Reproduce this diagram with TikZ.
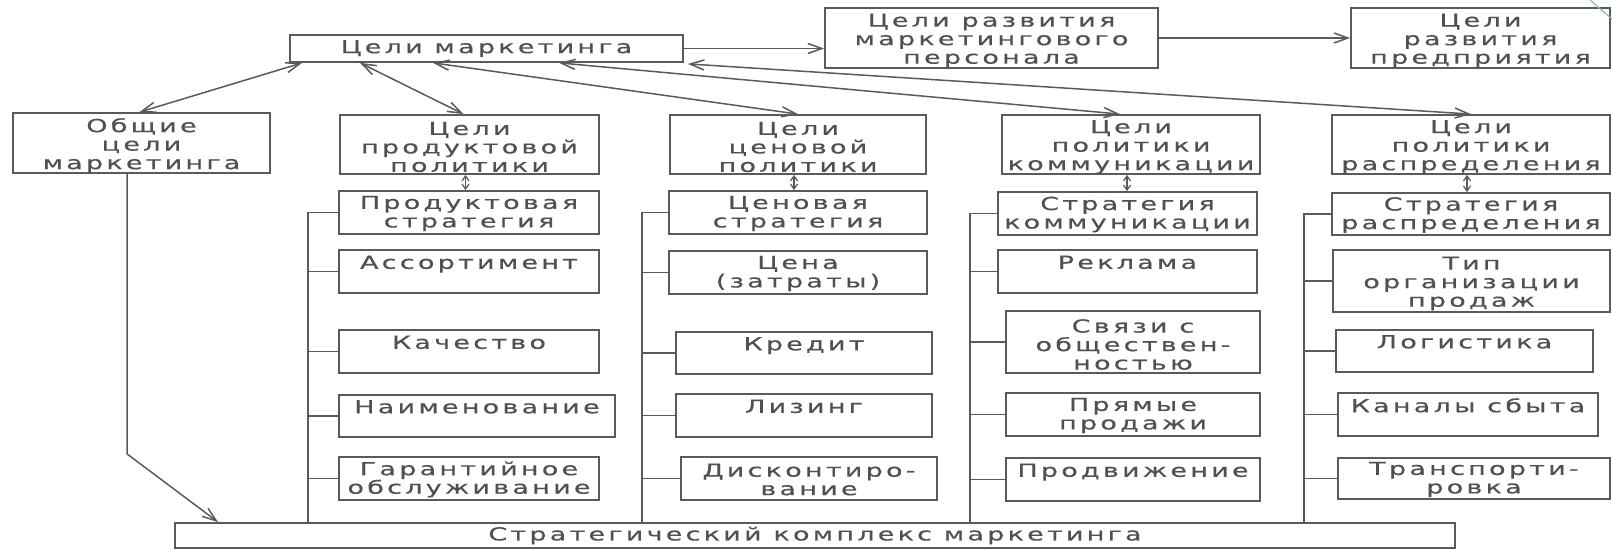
\documentclass[tikz,border=0pt]{standalone}
\usepackage{fontspec}
\setmainfont[LetterSpace=18,FakeStretch=1.5,FakeBold=0.5]{DejaVu Sans}
\usetikzlibrary{arrows.meta}
\definecolor{lc}{HTML}{5A5A5A}
\definecolor{tc}{HTML}{505050}
\definecolor{edgeblue}{HTML}{8AB0D8}
% box by its corners: [text drop], name, x1, y1, x2, y2, text
\newcommand\boxnode[7][0]{%
  \node[bx,minimum width={#5-#3},minimum height={#6-#4}] (#2) at ({(#3+#5)/2},{(#4+#6)/2}) {};
  \node[txt] (#2-t) at ([yshift=-#1pt]#2.center) {#7};}
\begin{document}
\begin{tikzpicture}[x=1pt,y=-1pt,
  ln/.style={draw=lc,line width=1.5pt},
  bx/.style={draw=lc,line width=1.8pt,rectangle,inner sep=0pt},
  txt/.style={inner sep=0pt,align=center,text=tc,font=\fontsize{18}{18.5}\selectfont},
  barb/.tip={Straight Barb[length=14pt,width=10pt]},
  smallbarb/.tip={Straight Barb[length=5pt,width=7pt]},
  dbl/.style={ln,barb-barb},
  onearr/.style={ln,-barb},
  tiny/.style={ln,line width=1.2pt,smallbarb-smallbarb}]
\useasboundingbox (0,0) rectangle (1612,549);

% top row
\boxnode{goal}{290}{35}{683}{62}{Цели маркетинга}
\boxnode[2.5]{staff}{825}{8}{1158}{68}{Цели развития\\маркетингового\\персонала}
\boxnode[2.5]{firm}{1351}{8}{1610}{68}{Цели\\развития\\предприятия}

% goals of the four policies
\boxnode[2.5]{gen}{13}{113}{270}{173}{Общие\\цели\\маркетинга}
\boxnode[2.5]{prodG}{340}{115}{599}{174}{Цели\\продуктовой\\политики}
\boxnode[2.5]{priceG}{670}{115}{926}{174}{Цели\\ценовой\\политики}
\boxnode[2.5]{commG}{1002}{115}{1260}{174}{Цели\\политики\\коммуникации}
\boxnode[2.5]{distG}{1332}{115}{1610}{174}{Цели\\политики\\распределения}

% strategies
\boxnode[1]{prodS}{339}{191}{599}{234}{Продуктовая\\стратегия}
\boxnode[1]{priceS}{669}{191}{927}{234}{Ценовая\\стратегия}
\boxnode[1]{commS}{998}{192}{1257}{235}{Стратегия\\коммуникации}
\boxnode[1]{distS}{1332}{193}{1610}{235}{Стратегия\\распределения}

% product column
\boxnode{p1}{339}{250}{599}{293}{Ассортимент\\\mbox{}}
\boxnode{p2}{339}{330}{599}{373}{Качество\\\mbox{}}
\boxnode{p3}{339}{395}{615}{437}{Наименование\\\mbox{}}
\boxnode[1]{p4}{339}{457}{599}{500}{Гарантийное\\обслуживание}

% price column
\boxnode[1]{c1}{669}{251}{927}{294}{Цена\\(затраты)}
\boxnode{c2}{676}{332}{932}{374}{Кредит\\\mbox{}}
\boxnode{c3}{676}{394}{932}{437}{Лизинг\\\mbox{}}
\boxnode[1]{c4}{681}{457}{937}{500}{Дисконтиро-\\вание}

% communication column
\boxnode{m1}{998}{250}{1257}{293}{Реклама\\\mbox{}}
\boxnode[2.5]{m2}{1006}{311}{1260}{373}{Связи с\\обществен-\\ностью}
\boxnode[1]{m3}{1006}{393}{1260}{436}{Прямые\\продажи}
\boxnode{m4}{1006}{458}{1260}{501}{Продвижение\\\mbox{}}

% distribution column
\boxnode[2.5]{d1}{1333}{250}{1610}{312}{Тип\\организации\\продаж}
\boxnode{d2}{1336}{330}{1593}{372}{Логистика\\\mbox{}}
\boxnode{d3}{1338}{393}{1598}{436}{Каналы сбыта\\\mbox{}}
\boxnode[1]{d4}{1338}{458}{1610}{499}{Транспорти-\\ровка}

% strategic mix
\boxnode{mix}{175}{523}{1455}{548}{Стратегический комплекс маркетинга}

% arrows along the top
\draw[onearr] (goal.east) -- (goal.east -| staff.west);
\draw[onearr] (staff.east |- 0,38) -- (firm.west |- 0,38);

% arrows from the marketing goals to the policy goals
\draw[dbl] ([xshift=13pt]goal.south west) -- ([xshift=-2pt]gen.north);
\draw[dbl] ([xshift=71pt]goal.south west) -- ([xshift=-6pt]prodG.north);
\draw[dbl] ([xshift=144pt]goal.south west) -- (priceG.north);
\draw[dbl] ([xshift=270pt]goal.south west) -- ([xshift=-11pt]commG.north);
\draw[dbl] ([xshift=4pt,yshift=-1pt]goal.south east) -- (distG.north);

% small links from policy goals to strategies
\foreach \g/\s in {prodG/prodS,priceG/priceS,commG/commS,distG/distS}
  \draw[tiny] ([xshift=-4pt]\g.south) -- ([xshift=-4pt]\g.south |- \s.north);

% branch lines of each column
\coordinate (v1) at (308,0);
\coordinate (v2) at (642,0);
\coordinate (v3) at (970,0);
\coordinate (v4) at (1304,0);
\foreach \v/\s/\a/\b/\c/\d in {v1/prodS/p1/p2/p3/p4, v2/priceS/c1/c2/c3/c4,
                                v3/commS/m1/m2/m3/m4, v4/distS/d1/d2/d3/d4}{
  \draw[ln] (\s.west) -- (\s.west -| \v) -- (\v |- mix.north);
  \foreach \n in {\a,\b,\c,\d}
    \draw[ln] (\n.west) -- (\n.west -| \v);
}

% general goals down to the strategic mix
\draw[onearr] ([xshift=-14.5pt]gen.south) -- ++(0,280) -- ([xshift=44pt]mix.north west);

% corner trace
\draw[edgeblue,line width=1.2pt] (1590,0) .. controls (1598,7) .. (1612,19);
\end{tikzpicture}
\end{document}
